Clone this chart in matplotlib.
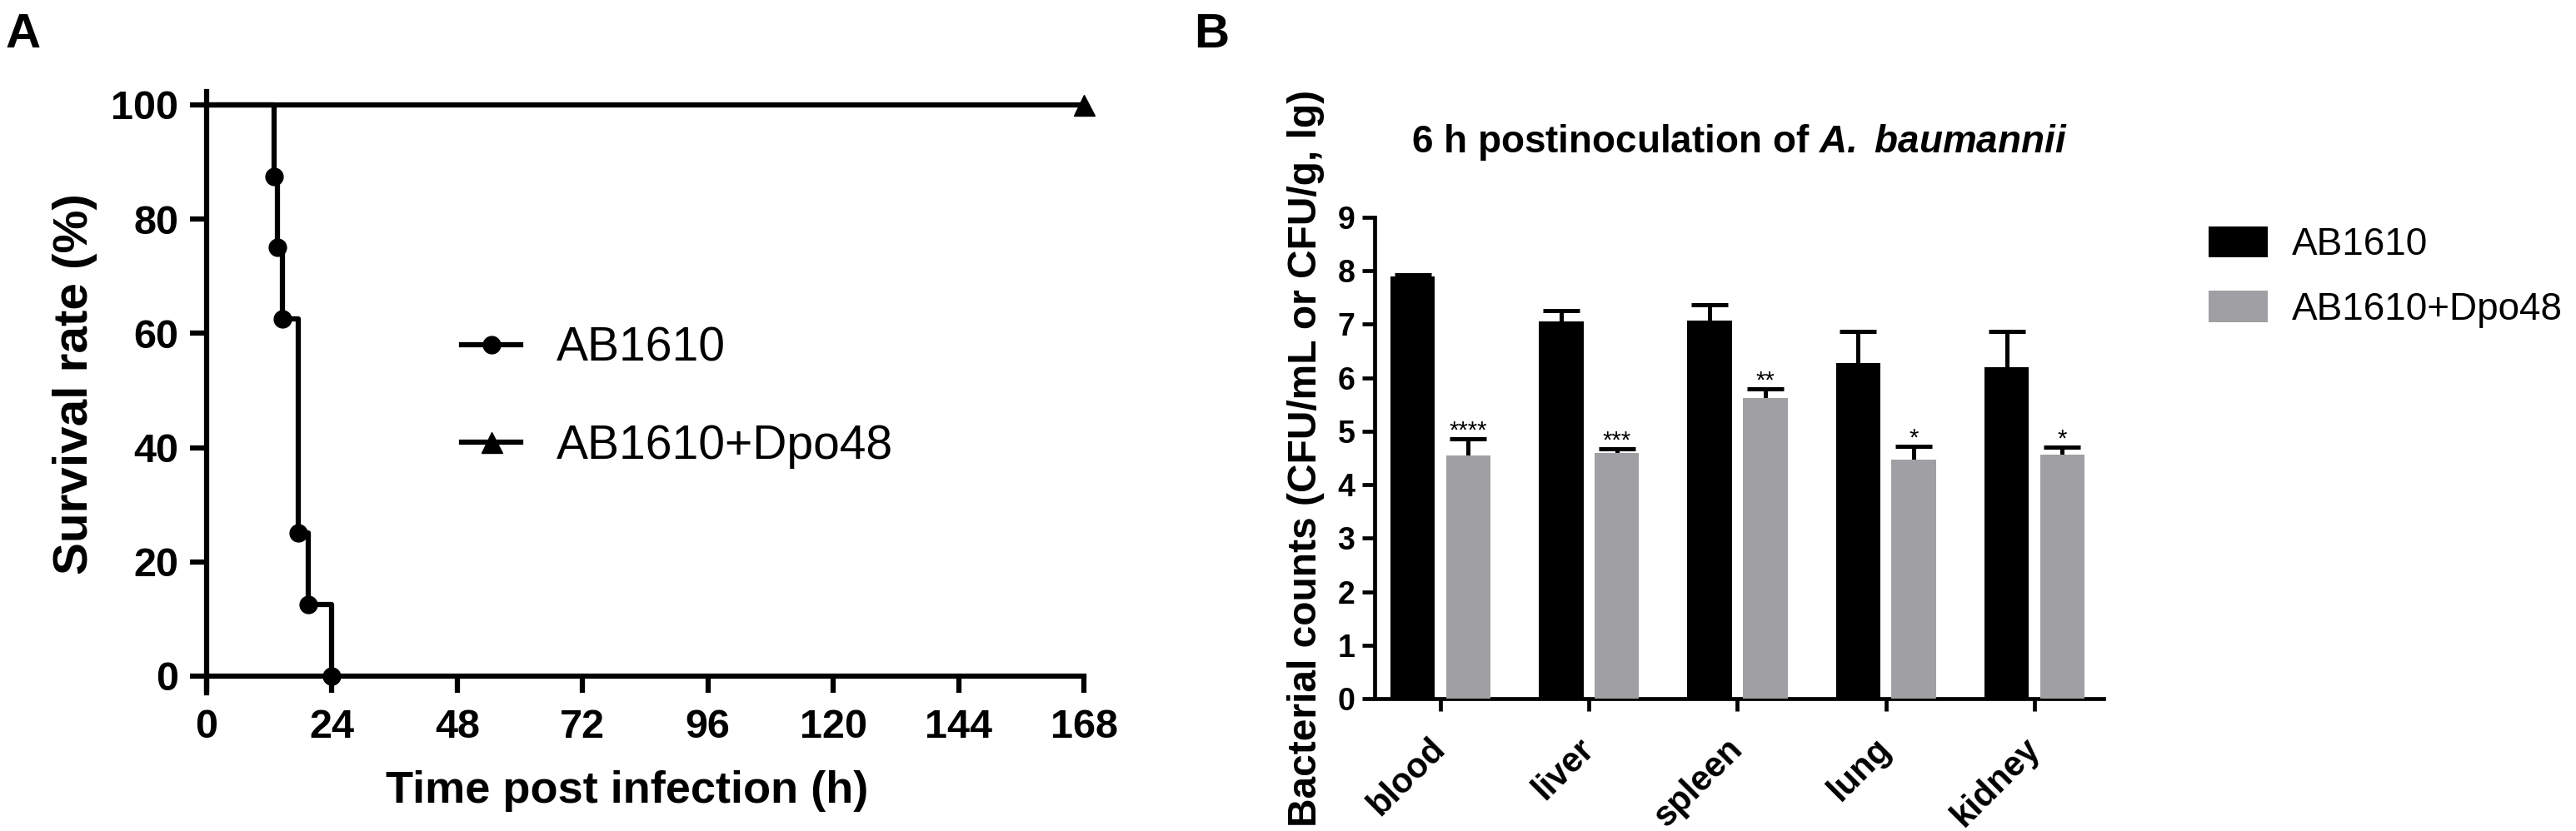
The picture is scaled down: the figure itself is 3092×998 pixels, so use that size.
import matplotlib
matplotlib.use('Agg')
import matplotlib.pyplot as plt
from matplotlib.lines import Line2D
from matplotlib.patches import Patch
import numpy as np

plt.rcParams['font.family'] = ['Liberation Sans', 'DejaVu Sans']
plt.rcParams['mathtext.fontset'] = 'custom'
plt.rcParams['mathtext.rm'] = 'Liberation Sans'
plt.rcParams['mathtext.bf'] = 'Liberation Sans:bold'
plt.rcParams['mathtext.it'] = 'Liberation Sans:italic'
plt.rcParams['mathtext.bfit'] = 'Liberation Sans:italic:bold'

####### Dados painel A (curva de sobrevivencia) #######
tempo_ab = [0, 13, 13.5, 14.5, 17.5, 19.5, 24]
sobrev_ab = [100, 87.5, 75, 62.5, 25, 12.5, 0]
tempo_dpo = [0, 168]
sobrev_dpo = [100, 100]
xticks_a = [0, 24, 48, 72, 96, 120, 144, 168]
yticks_a = [0, 20, 40, 60, 80, 100]
grupos = ['AB1610', 'AB1610+Dpo48']

####### Dados painel B (contagem bacteriana) #######
orgaos = ['blood', 'liver', 'spleen', 'lung', 'kidney']
media_ab = [7.90, 7.06, 7.07, 6.27, 6.19]
erro_ab = [0.03, 0.20, 0.29, 0.60, 0.68]
media_dpo = [4.55, 4.60, 5.62, 4.47, 4.57]
erro_dpo = [0.31, 0.07, 0.18, 0.25, 0.13]
signif = ['****', '***', '**', '*', '*']
yticks_b = list(range(10))

W, H = 3092, 998
fig = plt.figure(figsize=(W / 100, H / 100), dpi=100)

# letras dos paineis
fig.text(7 / W, 1 - 57 / H, 'A', fontsize=42, fontweight='bold', ha='left', va='baseline')
fig.text(1433 / W, 1 - 57 / H, 'B', fontsize=42, fontweight='bold', ha='left', va='baseline')

############ Painel A ############
lw_a = 4.5
axA = fig.add_axes([248 / W, 1 - 832 / H, 1053 / W, 722 / H])
axA.set_xlim(0, 168)
axA.set_ylim(-2.92, 102.33)
axA.spines['top'].set_visible(False)
axA.spines['right'].set_visible(False)
axA.spines['bottom'].set_position(('data', 0))
for s in ['left', 'bottom']:
    axA.spines[s].set_linewidth(lw_a)

axA.step(tempo_ab, sobrev_ab, where='post', color='k', lw=lw_a, zorder=3, clip_on=False)
axA.plot(tempo_ab[1:], sobrev_ab[1:], 'o', ms=15, color='k', zorder=4, clip_on=False)
axA.plot(tempo_dpo, sobrev_dpo, color='k', lw=lw_a, marker='^', markevery=[1], ms=18,
         zorder=3, clip_on=False)

axA.set_xticks(xticks_a, [str(t) for t in xticks_a], fontweight='bold')
axA.set_yticks(yticks_a, [str(t) for t in yticks_a], fontweight='bold')
axA.tick_params(axis='both', direction='out', length=14.4, width=lw_a, labelsize=35)
axA.tick_params(axis='x', pad=14)
axA.tick_params(axis='y', pad=10)

axA.set_xlabel('Time post infection (h)', fontsize=39, fontweight='bold')
axA.xaxis.set_label_coords(0.4796, -0.129)
axA.set_ylabel('Survival rate (%)', fontsize=42, fontweight='bold')
axA.yaxis.set_label_coords(-0.124, 0.514)

h_a = [Line2D([], [], color='k', lw=lw_a, marker='o', ms=15),
       Line2D([], [], color='k', lw=lw_a, marker='^', ms=18)]
axA.legend(h_a, grupos, loc='upper left', bbox_to_anchor=(554 / W, 1 - 392 / H),
           bbox_transform=fig.transFigure, frameon=False, fontsize=41,
           handlelength=1.25, handletextpad=0.75, labelspacing=1.1,
           borderpad=0, borderaxespad=0)

############ Painel B ############
lw_b = 3.4
cinza = '#a0a0a4'
axB = fig.add_axes([1650 / W, 1 - 839 / H, 875 / W, 578 / H])
x = np.arange(len(orgaos))
larg = 0.30
desl = 0.187

axB.bar(x - desl, media_ab, larg, color='k', zorder=3)
axB.bar(x + desl, media_dpo, larg, color=cinza, zorder=3)
axB.errorbar(x - desl, media_ab, yerr=erro_ab, fmt='none', ecolor='k',
             elinewidth=3.6, capsize=16, capthick=3.6, zorder=2)
axB.errorbar(x + desl, media_dpo, yerr=erro_dpo, fmt='none', ecolor='k',
             elinewidth=3.6, capsize=16, capthick=3.6, zorder=2)

for i, s in enumerate(signif):
    axB.text(x[i] + desl, media_dpo[i] + erro_dpo[i] + 0.02, s, ha='center',
             va='baseline', fontsize=21)

axB.set_xlim(-0.443, 4.466)
axB.set_ylim(0, 9)
axB.spines['top'].set_visible(False)
axB.spines['right'].set_visible(False)
for s in ['left', 'bottom']:
    axB.spines[s].set_linewidth(lw_b)

axB.set_yticks(yticks_b, [str(t) for t in yticks_b], fontweight='bold')
axB.set_xticks(x, orgaos, fontweight='bold', rotation=45, ha='right', va='center',
               rotation_mode='anchor', fontsize=30)
axB.tick_params(axis='both', direction='out', length=11, width=lw_b)
axB.tick_params(axis='y', labelsize=27, pad=6)
axB.tick_params(axis='x', pad=28)

axB.set_ylabel('Bacterial counts (CFU/mL or CFU/g, lg)', fontsize=34.5, fontweight='bold')
axB.yaxis.set_label_coords(-0.068, 0.5)
axB.set_title(r'6 h postinoculation of $\mathbfit{A.}$ $\mathbfit{baumannii}$', fontsize=33,
              fontweight='bold', pad=56)

h_b = [Patch(facecolor='k'), Patch(facecolor=cinza)]
axB.legend(h_b, grupos, loc='upper left', bbox_to_anchor=(2651 / W, 1 - 272 / H),
           bbox_transform=fig.transFigure, frameon=False, fontsize=33,
           handlelength=1.54, handleheight=0.87, handletextpad=0.65,
           labelspacing=0.72, borderpad=0, borderaxespad=0)

fig.savefig('out.png', dpi=100)
